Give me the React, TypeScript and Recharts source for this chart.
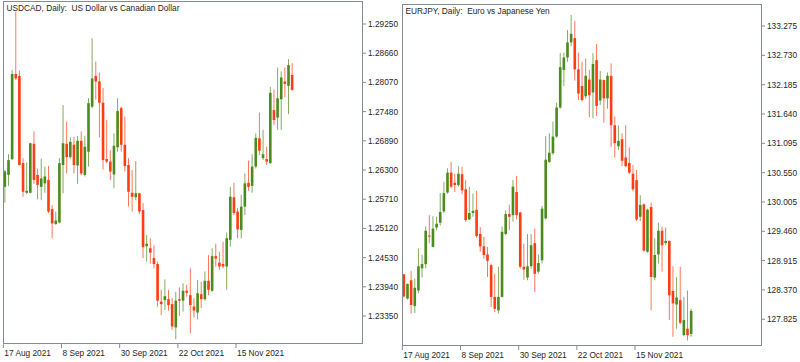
import { Bar, ComposedChart, XAxis, YAxis } from "recharts";

// USDCAD daily candles, first bar = 17 Aug 2021
const cadOpen = [
  1.2596, 1.262, 1.2652, 1.2824, 1.282, 1.2644, 1.2584, 1.2584, 1.2683, 1.262,
  1.2596, 1.2603, 1.261, 1.2551, 1.2521, 1.2524, 1.264, 1.2683, 1.2656, 1.2681,
  1.2639, 1.2689, 1.262, 1.2667, 1.2758, 1.282, 1.2809, 1.2766, 1.2652, 1.2647,
  1.2621, 1.2676, 1.2755, 1.2681, 1.264, 1.2584, 1.2575, 1.2583, 1.2549, 1.2476,
  1.2472, 1.2452, 1.244, 1.2364, 1.2367, 1.2369, 1.2359, 1.2312, 1.2369, 1.2366,
  1.2386, 1.2377, 1.2354, 1.2342, 1.2379, 1.2369, 1.2406, 1.2386, 1.2456, 1.2443,
  1.244, 1.2435, 1.2489, 1.2575, 1.2546, 1.2509, 1.2556, 1.2604, 1.2598, 1.2637,
  1.2694, 1.2654, 1.2652, 1.2644, 1.2751, 1.2736, 1.2773, 1.2809, 1.28, 1.2822,
];
const cadHigh = [
  1.263, 1.2662, 1.2832, 1.295, 1.2831, 1.2654, 1.2645, 1.2685, 1.2708, 1.2633,
  1.2653, 1.2637, 1.2638, 1.2559, 1.2546, 1.2654, 1.2761, 1.2728, 1.2696, 1.2697,
  1.2699, 1.2708, 1.2699, 1.2775, 1.2896, 1.2849, 1.2827, 1.2796, 1.2731, 1.267,
  1.2704, 1.2775, 1.2758, 1.2738, 1.2654, 1.263, 1.2648, 1.2584, 1.2563, 1.2499,
  1.2492, 1.2478, 1.2445, 1.2388, 1.2409, 1.2388, 1.2371, 1.2384, 1.2393, 1.2401,
  1.2398, 1.2431, 1.2371, 1.2408, 1.2404, 1.2425, 1.2458, 1.2472, 1.2481, 1.2465,
  1.2485, 1.2504, 1.2596, 1.2604, 1.2553, 1.258, 1.2623, 1.2649, 1.2662, 1.2704,
  1.2746, 1.2711, 1.2677, 1.2798, 1.2793, 1.2837, 1.2829, 1.2837, 1.2854, 1.2846,
];
const cadLow = [
  1.2564, 1.2598, 1.265, 1.2812, 1.2639, 1.2576, 1.2582, 1.2583, 1.2602, 1.2571,
  1.2569, 1.2584, 1.2543, 1.2492, 1.2519, 1.2522, 1.2583, 1.2623, 1.2652, 1.2623,
  1.2602, 1.262, 1.2617, 1.2637, 1.2755, 1.2772, 1.2696, 1.2631, 1.2644, 1.261,
  1.2593, 1.2667, 1.2667, 1.2627, 1.2556, 1.2546, 1.2569, 1.2541, 1.2452, 1.2445,
  1.2441, 1.2431, 1.2354, 1.2337, 1.2347, 1.2346, 1.2307, 1.2288, 1.2335, 1.2344,
  1.2374, 1.23, 1.2332, 1.2328, 1.2351, 1.2366, 1.2377, 1.2384, 1.2435, 1.2428,
  1.2431, 1.2388, 1.2475, 1.2539, 1.2492, 1.2492, 1.2539, 1.2588, 1.2584, 1.2633,
  1.266, 1.265, 1.264, 1.2642, 1.2721, 1.2711, 1.2711, 1.2777, 1.2743, 1.279,
];
const cadClose = [
  1.2627, 1.265, 1.2824, 1.2815, 1.264, 1.2586, 1.2588, 1.2684, 1.261, 1.26,
  1.2613, 1.2617, 1.2546, 1.2522, 1.2528, 1.2644, 1.2684, 1.2656, 1.2687, 1.264,
  1.2689, 1.2623, 1.2677, 1.2765, 1.2815, 1.2809, 1.2766, 1.265, 1.2647, 1.2627,
  1.2679, 1.2749, 1.2681, 1.2638, 1.2586, 1.2576, 1.2583, 1.2546, 1.2474, 1.2481,
  1.2463, 1.244, 1.2366, 1.2359, 1.2375, 1.2357, 1.2314, 1.2366, 1.2366, 1.2386,
  1.2382, 1.2357, 1.2346, 1.2381, 1.2369, 1.2406, 1.2388, 1.2456, 1.2451, 1.2435,
  1.2435, 1.2492, 1.2576, 1.2543, 1.251, 1.2556, 1.2603, 1.2596, 1.2637, 1.2695,
  1.2669, 1.2662, 1.2647, 1.2786, 1.2731, 1.2775, 1.2817, 1.2804, 1.2842, 1.2792,
];
const cadTicks = [
  1.2335, 1.2394, 1.2453, 1.2512, 1.2571, 1.263, 1.2689, 1.2748, 1.2807, 1.2866, 1.2925,
];

// EURJPY daily candles, first bar = 17 Aug 2021
const jpyOpen = [
  128.66, 128.21, 128.55, 128.07, 128.36, 128.77, 128.85, 129.38, 129.17, 129.53,
  129.62, 129.83, 130.18, 130.55, 130.36, 130.32, 130.52, 130.24, 129.68, 129.8,
  129.86, 129.41, 129.18, 129.03, 128.83, 128.24, 127.99, 128.24, 129.41, 129.78,
  129.76, 130.19, 129.81, 128.8, 128.6, 128.81, 129.24, 128.71, 128.92, 129.7,
  130.75, 130.91, 131.22, 131.76, 132.46, 132.69, 132.97, 133.05, 132.47, 132.16,
  131.97, 132.28, 132.04, 132.64, 131.89, 132.27, 131.93, 132.35, 131.43, 131.04,
  131.17, 130.83, 130.73, 130.53, 130.41, 129.73, 129.96, 129.08, 129.91, 128.6,
  129.03, 129.47, 129.24, 129.28, 128.35, 128.1, 128.18, 127.53, 127.65, 127.55,
];
const jpyHigh = [
  128.67, 128.49, 128.72, 128.58, 129.14, 129.02, 129.55, 129.76, 129.74, 129.73,
  130.17, 130.38, 130.63, 130.75, 130.53, 130.67, 130.66, 130.41, 130.29, 130.16,
  130.21, 129.54, 129.36, 129.17, 128.86, 128.67, 128.8, 129.55, 129.85, 129.95,
  130.41, 130.49, 129.82, 129.23, 129.41, 129.41, 129.51, 129.03, 129.93, 131.23,
  131.28, 131.5, 131.85, 132.77, 132.78, 133.2, 133.48, 133.37, 132.78, 132.61,
  132.67, 132.46, 132.77, 132.94, 132.44, 132.28, 132.41, 132.58, 131.59, 131.43,
  131.28, 131.43, 131.02, 130.69, 130.6, 130.13, 129.98, 129.88, 129.99, 129.33,
  129.62, 129.55, 129.53, 129.29, 128.81, 128.61, 128.8, 128.24, 128.36, 128.02,
];
const jpyLow = [
  128.23, 128.19, 127.93, 127.94, 128.31, 128.6, 128.77, 129.24, 129.16, 129.48,
  129.57, 129.8, 130.16, 130.26, 130.19, 130.29, 130.15, 129.64, 129.67, 129.73,
  129.34, 129.08, 128.95, 128.61, 128.05, 127.96, 127.93, 128.23, 129.39, 129.48,
  129.64, 129.68, 128.77, 128.56, 128.55, 128.77, 128.33, 128.67, 128.86, 129.68,
  130.73, 130.88, 131.2, 131.74, 132.16, 132.61, 132.9, 132.26, 131.9, 131.87,
  131.93, 131.58, 131.56, 131.6, 131.81, 131.48, 131.74, 131.03, 130.83, 130.97,
  130.67, 130.65, 130.52, 130.21, 129.65, 129.65, 129.08, 129.06, 127.99, 128.55,
  128.86, 128.71, 129.2, 127.81, 127.5, 127.65, 127.73, 127.51, 127.43, 127.5,
];
const jpyClose = [
  128.25, 128.48, 128.09, 128.41, 128.81, 128.85, 129.47, 129.36, 129.51, 129.6,
  129.82, 130.17, 130.55, 130.29, 130.32, 130.53, 130.22, 129.67, 129.8, 129.84,
  129.37, 129.18, 129.02, 128.91, 128.24, 128.02, 128.24, 129.45, 129.78, 129.73,
  130.29, 129.76, 128.8, 128.75, 128.81, 129.2, 128.67, 128.87, 129.88, 130.79,
  130.92, 131.22, 131.76, 132.51, 132.69, 132.97, 133.13, 132.47, 132.02, 131.9,
  132.35, 131.99, 132.57, 131.79, 132.28, 131.93, 132.35, 131.43, 131.1, 131.14,
  130.77, 130.67, 130.55, 130.24, 129.68, 129.95, 129.1, 129.86, 128.61, 129.02,
  129.47, 129.2, 129.28, 128.27, 128.12, 128.23, 127.76, 127.81, 127.53, 127.98,
];
const jpyTicks = [
  127.825, 128.37, 128.915, 129.46, 130.005, 130.55, 131.095, 131.64, 132.185, 132.73, 133.275,
];

// bar index of each date label (labels every 16 bars)
const dateTickIdx = [0, 16, 32, 48, 64];
const dateLabels = ["17 Aug 2021", "8 Sep 2021", "30 Sep 2021", "22 Oct 2021", "15 Nov 2021"];

const SLOTS = 99;
const GREEN = "#4b8a1c";
const RED = "#ff3c12";
const FRAME = "#858c91";
const FONT = "'Liberation Sans', Arial, sans-serif";

function buildRows(o: number[], h: number[], l: number[], c: number[]) {
  const rows: any[] = [];
  for (let i = 0; i < SLOTS; i++) {
    if (i < o.length) rows.push({ i, range: [l[i], h[i]], o: o[i], h: h[i], l: l[i], c: c[i] });
    else rows.push({ i });
  }
  return rows;
}

const Candle = (props: any) => {
  const { x, y, width, height, payload } = props;
  if (!payload || payload.o == null) return <g />;
  const { o, h, l, c } = payload;
  const cx = x + width / 2;
  const span = h - l || 1;
  const py = (v: number) => y + ((h - v) / span) * height;
  const col = c >= o ? GREEN : RED;
  const top = py(Math.max(o, c));
  const bot = py(Math.min(o, c));
  return (
    <g>
      <line x1={cx} x2={cx} y1={y} y2={y + height} stroke={col} strokeOpacity={0.7} strokeWidth={1} />
      <rect x={cx - 1.3} y={top} width={2.6} height={Math.max(bot - top, 1)} fill={col} />
    </g>
  );
};

const DateTick = (props: any) => {
  const { x, y, payload } = props;
  const k = dateTickIdx.indexOf(payload.value);
  return (
    <g>
      <line x1={x - 1.5} x2={x - 1.5} y1={y} y2={y + 4} stroke={FRAME} />
      <text x={x - 0.5} y={y + 12.3} fontSize={8.3} fontFamily={FONT} fill="#1e1e1e">
        {dateLabels[k]}
      </text>
    </g>
  );
};

type PanelProps = {
  title: string;
  rows: any[];
  domain: [number, number];
  ticks: number[];
  digits: number;
  left: number;
  top: number;
  bottom: number;
};

function Panel({ title, rows, domain, ticks, digits, left, top, bottom }: PanelProps) {
  return (
    <div style={{ position: "absolute", left, top: 0, width: 400, height: 362 }}>
      <ComposedChart
        width={400}
        height={362}
        data={rows}
        margin={{ top, right: 0, left: 3, bottom: 0 }}
      >
        <XAxis
          dataKey="i"
          type="category"
          ticks={dateTickIdx}
          interval={0}
          axisLine={false}
          tickLine={false}
          tickSize={0}
          tickMargin={0}
          height={362 - bottom}
          tick={<DateTick />}
        />
        <YAxis
          orientation="right"
          type="number"
          domain={domain}
          allowDataOverflow
          ticks={ticks}
          interval={0}
          width={37}
          axisLine={false}
          tickLine={{ stroke: FRAME }}
          tickSize={3}
          tickMargin={2}
          tickFormatter={(v: number) => v.toFixed(digits)}
          tick={{ fontSize: 8.3, fontFamily: FONT, fill: "#1e1e1e" }}
        />
        <Bar dataKey="range" shape={<Candle />} isAnimationActive={false} />
      </ComposedChart>
      <div
        style={{
          position: "absolute",
          left: 3,
          top,
          width: 360,
          height: bottom - top,
          border: `1px solid ${FRAME}`,
          boxSizing: "border-box",
          pointerEvents: "none",
        }}
      />
      <div
        style={{
          position: "absolute",
          left: 6.5,
          top: top + 1.8,
          fontFamily: FONT,
          fontSize: 8.3,
          lineHeight: "10px",
          color: "#1e1e1e",
          whiteSpace: "pre",
        }}
      >
        {title}
      </div>
    </div>
  );
}

export default function App() {
  const cadRows = buildRows(cadOpen, cadHigh, cadLow, cadClose);
  const jpyRows = buildRows(jpyOpen, jpyHigh, jpyLow, jpyClose);
  return (
    <div style={{ position: "relative", width: 800, height: 362, background: "#fff" }}>
      <style>{"body{margin:0}"}</style>
      <Panel
        title="USDCAD, Daily:  US Dollar vs Canadian Dollar"
        rows={cadRows}
        domain={[1.22784, 1.29715]}
        ticks={cadTicks}
        digits={5}
        left={0}
        top={1}
        bottom={344}
      />
      <Panel
        title="EURJPY, Daily:  Euro vs Japanese Yen"
        rows={jpyRows}
        domain={[127.328, 133.684]}
        ticks={jpyTicks}
        digits={3}
        left={399}
        top={4}
        bottom={346}
      />
    </div>
  );
}
